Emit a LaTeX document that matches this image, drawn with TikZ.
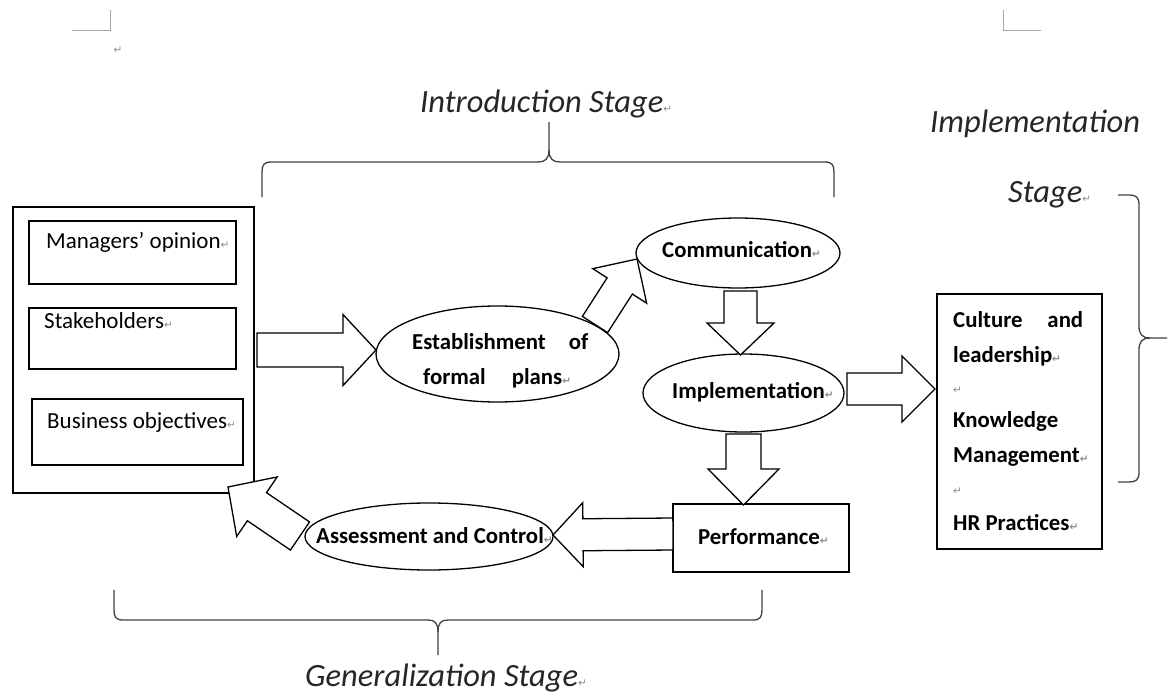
\documentclass[tikz,border=0pt]{standalone}
\usepackage{fontspec}
\setmainfont{Carlito}
\newfontfamily\symf{DejaVu Sans}
\usetikzlibrary{calc,shapes.geometric}
\newcommand\parmark{{\symf\fontsize{10.5}{10.5}\selectfont\textcolor{black!45}{\char"21B5}}}
\newcommand\blockarrow[5]{%
  \draw[barrow] let \p1=(#1), \p2=(#2), \n1={atan2(\y2-\y1,\x2-\x1)} in
    ($(\p1)+({\n1+90}:#3pt)$)
    -- ($(\p2)+({\n1+180}:#5pt)+({\n1+90}:#3pt)$)
    -- ($(\p2)+({\n1+180}:#5pt)+({\n1+90}:#4pt)$)
    -- (\p2)
    -- ($(\p2)+({\n1+180}:#5pt)+({\n1-90}:#4pt)$)
    -- ($(\p2)+({\n1+180}:#5pt)+({\n1-90}:#3pt)$)
    -- ($(\p1)+({\n1-90}:#3pt)$) -- cycle;}
\tikzset{
  box/.style={draw, rectangle, inner sep=0pt, line width=1.3pt},
  ell/.style={draw, ellipse, inner sep=0pt, line width=1.3pt},
  barrow/.style={draw, fill=white, line width=1.3pt, line join=miter},
  txt/.style={inner sep=0pt, anchor=base west, font=\fontsize{23}{26}\selectfont},
  btxt/.style={inner sep=0pt, anchor=base west, font=\fontsize{22.8}{26}\selectfont\bfseries},
  stagetitle/.style={inner sep=0pt, anchor=base west, font=\fontsize{32.5}{36}\selectfont\itshape, text=black!85},
  bracepath/.style={draw=black!75, line width=1.3pt},
  marks/.style={draw=black!35, line width=1pt}
}
\begin{document}
\begin{tikzpicture}[x=1pt,y=-1pt]
\useasboundingbox (0,0) rectangle (1173,693);
% page corner marks
\draw[marks] (72,31) -- (110,31) -- (110,10);
\draw[marks] (1003,10) -- (1003,31) -- (1041,31);
\node[inner sep=0pt] (pm0) at (118,50) {\parmark};

% boxes
\node[box, minimum width=241pt, minimum height=286pt] (src) at (133.5,350) {};
\node[box, minimum width=207pt, minimum height=63pt] (mgr) at (132.5,252.5) {};
\node[box, minimum width=207pt, minimum height=61pt] (stk) at (132.5,338.5) {};
\node[box, minimum width=211pt, minimum height=66pt] (bus) at (137.5,432) {};
\node[box, minimum width=176pt, minimum height=68pt] (perf) at (761,538) {};
\node[box, minimum width=165pt, minimum height=255pt] (rbox) at (1019.5,421.5) {};

% ellipses
\node[ell, minimum width=243pt, minimum height=96pt] (estab) at (497.5,354) {};
\node[ell, minimum width=204pt, minimum height=70pt] (comm) at (738,253) {};
\node[ell, minimum width=201pt, minimum height=78pt] (impl) at (743.5,393) {};
\node[ell, minimum width=248pt, minimum height=67pt] (assess) at (429,536.5) {};

% block arrows
\coordinate (a1s) at (257,350);   \coordinate (a1e) at (376,350);
\coordinate (a2s) at (595,324.5); \coordinate (a2e) at (637,259);
\coordinate (a3s) at (740.5,291); \coordinate (a3e) at (740.5,355);
\coordinate (a4s) at (743.5,434); \coordinate (a4e) at (743.5,505);
\coordinate (a5s) at (847,389);   \coordinate (a5e) at (935,389);
\coordinate (a6s) at (673,534);   \coordinate (a6e) at (553,535);
\coordinate (a7s) at (300,536);   \coordinate (a7e) at (228,487);
\blockarrow{a1s}{a1e}{17}{35.5}{33}
\blockarrow{a2s}{a2e}{15}{32}{32}
\blockarrow{a3s}{a3e}{16.5}{33.5}{32}
\blockarrow{a4s}{a4e}{17.5}{35.5}{36}
\blockarrow{a5s}{a5e}{16}{33}{33}
\blockarrow{a6s}{a6e}{16}{32}{30}
\blockarrow{a7s}{a7e}{17}{36}{35}

% braces
\draw[bracepath] (262,197) -- (262,172) .. controls (262,165) and (264,162) .. (271,162)
  -- (538,162) .. controls (545,162) and (549,159) .. (549,150) -- (549,122);
\draw[bracepath] (549,150) .. controls (549,159) and (553,162) .. (560,162)
  -- (825,162) .. controls (832,162) and (834,165) .. (834,172) -- (834,197);
\draw[bracepath] (114,590) -- (114,610) .. controls (114,617) and (116,620) .. (123,620)
  -- (428,620) .. controls (435,620) and (438,623) .. (438,632) -- (438,655);
\draw[bracepath] (438,632) .. controls (438,623) and (441,620) .. (448,620)
  -- (753,620) .. controls (760,620) and (762,617) .. (762,610) -- (762,590);
\draw[bracepath] (1118,195) -- (1129,195) .. controls (1136,195) and (1139,197) .. (1139,205)
  -- (1139,326) .. controls (1139,334) and (1142,338) .. (1150,338) -- (1167,338);
\draw[bracepath] (1150,338) .. controls (1142,338) and (1139,342) .. (1139,350)
  -- (1139,472) .. controls (1139,480) and (1136,482) .. (1129,482) -- (1118,482);

% texts
\node[txt] (t1) at (46,248) {Managers’ opinion\parmark};
\node[txt] (t2) at (44,328) {Stakeholders\parmark};
\node[txt] (t3) at (47,428) {Business objectives\parmark};
\node[btxt] (tc) at (662,257) {Communication\parmark};
\node[btxt] (ti) at (672,398) {Implementation\parmark};
\node[btxt] (tp) at (698,544) {Performance\parmark};
\node[btxt] (ta) at (316,543) {Assessment and Control\parmark};
\node[btxt] (te1) at (412,349) {\makebox[176pt][s]{Establishment\hfill of}};
\node[btxt] (te2) at (423,384) {formal\hspace{26pt}plans\parmark};
\node[btxt] (r1) at (953,327) {\makebox[130pt][s]{Culture\hfill and}};
\node[btxt] (r2) at (953,362) {leadership\parmark};
\node[txt]  (r3) at (953,393) {\parmark};
\node[btxt] (r4) at (953,427) {Knowledge};
\node[btxt] (r5) at (953,462) {Management\parmark};
\node[txt]  (r6) at (953,494) {\parmark};
\node[btxt] (r7) at (953,530) {HR Practices\parmark};

% stage titles
\node[stagetitle] (intro) at (420,113) {Introduction Stage\parmark};
\node[stagetitle] (impl1) at (930,132) {Implementation};
\node[stagetitle] (impl2) at (1008,202) {Stage\parmark};
\node[stagetitle] (gen) at (305,686) {Generalization Stage\parmark};
\end{tikzpicture}
\end{document}
